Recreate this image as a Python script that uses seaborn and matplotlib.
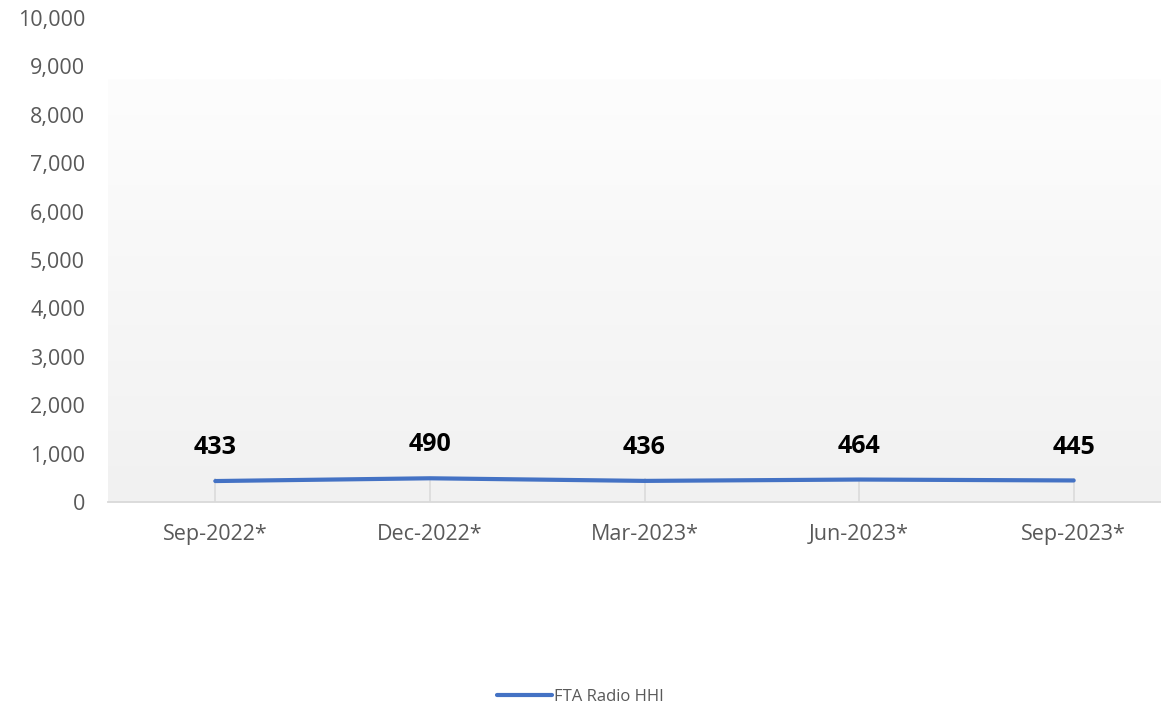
import numpy as np
import pandas as pd
import matplotlib
matplotlib.use("Agg")
import matplotlib.pyplot as plt
import seaborn as sns
from matplotlib.ticker import FuncFormatter, MultipleLocator
from matplotlib.lines import Line2D

# Quarterly Herfindahl-Hirschman Index for free-to-air radio
quarters = ["Sep-2022*", "Dec-2022*", "Mar-2023*", "Jun-2023*", "Sep-2023*"]
hhi = [433, 490, 436, 464, 445]
series_name = "FTA Radio HHI"

df = pd.DataFrame({"quarter": quarters, "hhi": hhi, "series": series_name})
df["pos"] = range(len(quarters))

sns.set_theme(style="white")
plt.rcParams["font.family"] = ["Open Sans", "DejaVu Sans"]

W, H = 1161, 705
fig = plt.figure(figsize=(W / 100, H / 100), dpi=100)
left_px, right_px, top_px, bottom_px = 108, 1181, 18, 502
ax = fig.add_axes([left_px / W, 1 - bottom_px / H,
                   (right_px - left_px) / W, (bottom_px - top_px) / H])

# soft vertical gradient behind the plot
grad = np.linspace(241, 253, 256).reshape(-1, 1) / 255.0
grad_rgb = np.dstack([grad, grad, grad])
ax.imshow(grad_rgb, extent=[-0.5, 4.5, 0, 8720], aspect="auto",
          origin="lower", zorder=0)

line_color = "#4472C4"
sns.lineplot(data=df, x="pos", y="hhi", hue="series", palette=[line_color],
             linewidth=3, ax=ax, zorder=3, legend=False)
for ln in ax.lines:
    ln.set_solid_capstyle("round")

for x, v in zip(df["pos"], df["hhi"]):
    ax.annotate(f"{v:,}", (x, v), xytext=(0, 24), textcoords="offset points",
                ha="center", va="center", fontsize=18, fontweight="bold",
                color="black", family=["Open Sans", "DejaVu Sans"])

ax.set_xlim(-0.5, 4.5)
ax.set_ylim(0, 10000)
ax.set_xticks(range(len(quarters)))
ax.set_xticklabels(quarters)
ax.yaxis.set_major_locator(MultipleLocator(1000))
ax.yaxis.set_major_formatter(FuncFormatter(lambda v, p: f"{int(v):,}"))
ax.set_xlabel("")
ax.set_ylabel("")

label_color = "#595959"
ax.tick_params(axis="x", direction="in", length=17, width=1.1,
               color="#d9d9d9", labelsize=15.5, labelcolor=label_color, pad=16,
               bottom=True)
ax.tick_params(axis="y", length=0, labelsize=15.5, labelcolor=label_color, pad=16.5)

for side in ["top", "right", "left"]:
    ax.spines[side].set_visible(False)
ax.spines["bottom"].set_color("#d9d9d9")
ax.spines["bottom"].set_linewidth(1.3)
ax.grid(False)

# legend below the chart
handle = Line2D([0], [0], color=line_color, linewidth=3, solid_capstyle="round")
fig.legend([handle], [series_name], loc="center", bbox_to_anchor=(0.5, 1 - 697 / H),
           frameon=False, fontsize=12, labelcolor=label_color,
           handlelength=3.3, handletextpad=0.1)

fig.savefig("out.png", dpi=100, facecolor="white")
